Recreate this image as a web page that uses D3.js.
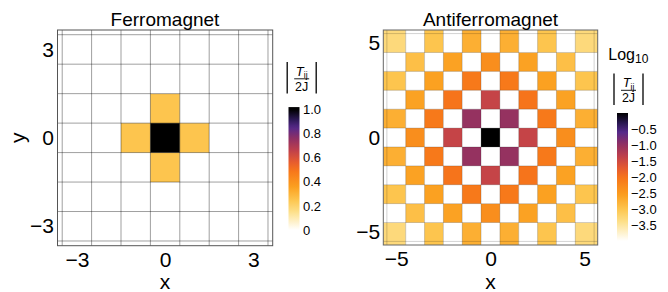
<!DOCTYPE html>
<html>
<head>
<meta charset="utf-8">
<script src="https://cdn.jsdelivr.net/npm/d3@7"></script>
<style>
body { margin: 0; background: #fff; }
svg { font-family: 'Liberation Sans', Arial, sans-serif; }
</style>
</head>
<body>
<div id="chart"></div>
<script>
// Ferromagnet: |T_ij / 2J|, linear
var fm_cells        =   [ -3, -2, -1, 0, 1, 2, 3 ];
var fm_ticks        =   [ -3, 0, 3 ];
var fm_offsets      =   [ [ 0, 0 ], [ 1, 0 ], [ -1, 0 ], [ 0, 1 ], [ 0, -1 ] ];
var fm_values       =   [ 1.0, 0.25, 0.25, 0.25, 0.25 ];
var fm_bar_ticks    =   [ 0, 0.2, 0.4, 0.6, 0.8, 1.0 ];

// Antiferromagnet: Log10 |T_ij / 2J|, one value per (|x|, |y|) pair, only x+y even
var afm_cells       =   [ -5, -4, -3, -2, -1, 0, 1, 2, 3, 4, 5 ];
var afm_ticks       =   [ -5, 0, 5 ];
var afm_offsets     =   [ [0,0], [1,1], [2,0], [2,2], [3,1], [4,0], [3,3], [4,2], [5,1], [4,4], [5,3], [5,5] ];
var afm_log         =   [ 0, -1.02, -1.42, -2.02, -2.08, -2.35, -2.58, -2.6, -2.75, -2.93, -3.0, -3.3 ];
var afm_bar_ticks   =   [ -3.5, -3.0, -2.5, -2.0, -1.5, -1.0, -0.5 ];

var chart_width     =   668;
var chart_height    =   292;

var svg             =   d3.select( '#chart' )
    .append( 'svg' )
    .attr( 'width', chart_width )
    .attr( 'height', chart_height );

// Colour map: white -> yellow -> orange -> red -> purple -> black
var sunset          =   d3.scaleLinear()
    .domain([ 0, 0.15, 0.25, 0.36, 0.49, 0.57, 0.66, 0.76, 0.85, 0.92, 1 ])
    .range([ '#ffffff', '#fde08a', '#fdc54e', '#fb9f1f', '#f7761a', '#e55a30',
             '#bf404b', '#8e2f64', '#55298a', '#2a1852', '#000000' ])
    .clamp( true );

function cellFill( t ) {
    return t === null ? '#ffffff' : sunset( t );
}

function styleAxis( g, size ) {
    g.select( '.domain' ).remove();
    g.selectAll( 'text' )
        .attr( 'font-size', size )
        .attr( 'fill', '#000' )
        .style( 'font-family', "'Liberation Sans', Arial, sans-serif" );
}

// ---------------- Ferromagnet ----------------
var fm_x            =   d3.scaleLinear().domain([ -3.66, 3.66 ]).range([ 57.5, 272.7 ]);
var fm_y            =   d3.scaleLinear().domain([ -3.66, 3.66 ]).range([ 245.7, 30 ]);

var fm_data         =   [];
fm_cells.forEach(function( cy ) {
    fm_cells.forEach(function( cx ) {
        var t = null;
        fm_offsets.forEach(function( o, i ) {
            if ( o[0] === cx && o[1] === cy ) t = fm_values[i];
        });
        fm_data.push({ x: cx, y: cy, t: t });
    });
});

var fm              =   svg.append( 'g' );

fm.selectAll( 'rect.cell' )
    .data( fm_data )
    .enter()
    .append( 'rect' )
    .attr( 'class', 'cell' )
    .attr( 'x', function( d ) { return fm_x( d.x - 0.5 ); })
    .attr( 'y', function( d ) { return fm_y( d.y + 0.5 ); })
    .attr( 'width', function( d ) { return fm_x( d.x + 0.5 ) - fm_x( d.x - 0.5 ); })
    .attr( 'height', function( d ) { return fm_y( d.y - 0.5 ) - fm_y( d.y + 0.5 ); })
    .attr( 'fill', function( d ) { return cellFill( d.t ); });

// Mesh
var fm_mesh         =   d3.range( -3.5, 3.6, 1 );
fm.selectAll( 'line.vmesh' )
    .data( fm_mesh )
    .enter()
    .append( 'line' )
    .attr( 'x1', function( d ) { return fm_x( d ); })
    .attr( 'x2', function( d ) { return fm_x( d ); })
    .attr( 'y1', fm_y( 3.66 ) )
    .attr( 'y2', fm_y( -3.66 ) )
    .attr( 'stroke', 'rgba(0,0,0,0.42)' )
    .attr( 'stroke-width', 0.9 );
fm.selectAll( 'line.hmesh' )
    .data( fm_mesh )
    .enter()
    .append( 'line' )
    .attr( 'y1', function( d ) { return fm_y( d ); })
    .attr( 'y2', function( d ) { return fm_y( d ); })
    .attr( 'x1', fm_x( -3.66 ) )
    .attr( 'x2', fm_x( 3.66 ) )
    .attr( 'stroke', 'rgba(0,0,0,0.42)' )
    .attr( 'stroke-width', 0.9 );

fm.append( 'rect' )
    .attr( 'x', 57.5 ).attr( 'y', 30 )
    .attr( 'width', 272.7 - 57.5 ).attr( 'height', 245.7 - 30 )
    .attr( 'fill', 'none' )
    .attr( 'stroke', '#555' )
    .attr( 'stroke-width', 1 );

// Axes
fm.append( 'g' )
    .attr( 'transform', 'translate(0,245.7)' )
    .call( d3.axisBottom( fm_x ).tickValues( fm_ticks ).tickSize( 0 ).tickPadding( 6.5 ).tickFormat( d3.format( 'd' ) ) )
    .call( styleAxis, 21 );
fm.append( 'g' )
    .attr( 'transform', 'translate(57.5,0)' )
    .call( d3.axisLeft( fm_y ).tickValues( fm_ticks ).tickSize( 0 ).tickPadding( 3.5 ).tickFormat( d3.format( 'd' ) ) )
    .call( styleAxis, 21 );

fm.append( 'text' )
    .attr( 'x', 165 ).attr( 'y', 26 )
    .attr( 'text-anchor', 'middle' )
    .attr( 'font-size', 19 )
    .text( 'Ferromagnet' );
fm.append( 'text' )
    .attr( 'x', 165 ).attr( 'y', 289 )
    .attr( 'text-anchor', 'middle' )
    .attr( 'font-size', 21 )
    .text( 'x' );
fm.append( 'text' )
    .attr( 'transform', 'translate(24.5,137.8) rotate(-90)' )
    .attr( 'text-anchor', 'middle' )
    .attr( 'font-size', 21 )
    .text( 'y' );

// ---------------- Antiferromagnet ----------------
var afm_x           =   d3.scaleLinear().domain([ -5.69, 5.69 ]).range([ 383.3, 597.7 ]);
var afm_y           =   d3.scaleLinear().domain([ -5.69, 5.69 ]).range([ 245, 30 ]);

var afm_data        =   [];
afm_cells.forEach(function( cy ) {
    afm_cells.forEach(function( cx ) {
        var t = null;
        if ( Math.abs( cx + cy ) % 2 === 0 ) {
            var a = Math.max( Math.abs( cx ), Math.abs( cy ) );
            var b = Math.min( Math.abs( cx ), Math.abs( cy ) );
            afm_offsets.forEach(function( o, i ) {
                if ( o[0] === a && o[1] === b ) t = ( afm_log[i] + 4 ) / 4;
            });
        }
        afm_data.push({ x: cx, y: cy, t: t });
    });
});

// edge cells stretch out to the frame
function afmLo( v ) { return v === afm_cells[0] ? -5.69 : v - 0.5; }
function afmHi( v ) { return v === afm_cells[afm_cells.length - 1] ? 5.69 : v + 0.5; }

var afm             =   svg.append( 'g' );

afm.selectAll( 'rect.cell' )
    .data( afm_data )
    .enter()
    .append( 'rect' )
    .attr( 'class', 'cell' )
    .attr( 'x', function( d ) { return afm_x( afmLo( d.x ) ); })
    .attr( 'y', function( d ) { return afm_y( afmHi( d.y ) ); })
    .attr( 'width', function( d ) { return afm_x( afmHi( d.x ) ) - afm_x( afmLo( d.x ) ); })
    .attr( 'height', function( d ) { return afm_y( afmLo( d.y ) ) - afm_y( afmHi( d.y ) ); })
    .attr( 'fill', function( d ) { return cellFill( d.t ); });

var afm_mesh        =   d3.range( -5.5, 5.6, 1 );
afm.selectAll( 'line.vmesh' )
    .data( afm_mesh )
    .enter()
    .append( 'line' )
    .attr( 'x1', function( d ) { return afm_x( d ); })
    .attr( 'x2', function( d ) { return afm_x( d ); })
    .attr( 'y1', afm_y( 5.69 ) )
    .attr( 'y2', afm_y( -5.69 ) )
    .attr( 'stroke', 'rgba(0,0,0,0.2)' )
    .attr( 'stroke-width', 0.9 );
afm.selectAll( 'line.hmesh' )
    .data( afm_mesh )
    .enter()
    .append( 'line' )
    .attr( 'y1', function( d ) { return afm_y( d ); })
    .attr( 'y2', function( d ) { return afm_y( d ); })
    .attr( 'x1', afm_x( -5.69 ) )
    .attr( 'x2', afm_x( 5.69 ) )
    .attr( 'stroke', 'rgba(0,0,0,0.2)' )
    .attr( 'stroke-width', 0.9 );

afm.append( 'rect' )
    .attr( 'x', 383.3 ).attr( 'y', 30 )
    .attr( 'width', 597.7 - 383.3 ).attr( 'height', 245 - 30 )
    .attr( 'fill', 'none' )
    .attr( 'stroke', '#666' )
    .attr( 'stroke-width', 1 );

afm.append( 'g' )
    .attr( 'transform', 'translate(0,245)' )
    .call( d3.axisBottom( afm_x ).tickValues( afm_ticks ).tickSize( 0 ).tickPadding( 6.5 ).tickFormat( d3.format( 'd' ) ) )
    .call( styleAxis, 21 );
afm.append( 'g' )
    .attr( 'transform', 'translate(383.3,0)' )
    .call( d3.axisLeft( afm_y ).tickValues( afm_ticks ).tickSize( 0 ).tickPadding( 3 ).tickFormat( d3.format( 'd' ) ) )
    .call( styleAxis, 21 );

afm.append( 'text' )
    .attr( 'x', 490.5 ).attr( 'y', 26 )
    .attr( 'text-anchor', 'middle' )
    .attr( 'font-size', 19 )
    .text( 'Antiferromagnet' );
afm.append( 'text' )
    .attr( 'x', 490.5 ).attr( 'y', 289 )
    .attr( 'text-anchor', 'middle' )
    .attr( 'font-size', 21 )
    .text( 'x' );

// ---------------- Colour bars ----------------
var defs            =   svg.append( 'defs' );

function addGradient( id, n, toT ) {
    var grad = defs.append( 'linearGradient' )
        .attr( 'id', id )
        .attr( 'x1', 0 ).attr( 'y1', 1 )
        .attr( 'x2', 0 ).attr( 'y2', 0 );
    d3.range( 0, n + 1 ).forEach(function( i ) {
        grad.append( 'stop' )
            .attr( 'offset', i / n )
            .attr( 'stop-color', sunset( toT( i / n ) ) );
    });
}

// fraction |T_ij / 2J|
function fracLabel( g, cx, top ) {
    g.append( 'line' ).attr( 'x1', cx - 14.5 ).attr( 'x2', cx - 14.5 )
        .attr( 'y1', top ).attr( 'y2', top + 31.5 )
        .attr( 'stroke', '#000' ).attr( 'stroke-width', 1.3 );
    g.append( 'line' ).attr( 'x1', cx + 14.5 ).attr( 'x2', cx + 14.5 )
        .attr( 'y1', top ).attr( 'y2', top + 31.5 )
        .attr( 'stroke', '#000' ).attr( 'stroke-width', 1.3 );
    var num = g.append( 'text' )
        .attr( 'x', cx ).attr( 'y', top + 13.5 )
        .attr( 'text-anchor', 'middle' )
        .attr( 'font-size', 13 );
    num.append( 'tspan' ).attr( 'font-style', 'italic' ).text( 'T' );
    num.append( 'tspan' ).attr( 'font-size', 8.5 ).attr( 'dy', 2.5 ).text( 'ij' );
    g.append( 'line' ).attr( 'x1', cx - 7.5 ).attr( 'x2', cx + 7.5 )
        .attr( 'y1', top + 16.8 ).attr( 'y2', top + 16.8 )
        .attr( 'stroke', '#000' ).attr( 'stroke-width', 0.9 );
    g.append( 'text' )
        .attr( 'x', cx ).attr( 'y', top + 28.5 )
        .attr( 'text-anchor', 'middle' )
        .attr( 'font-size', 12.5 )
        .text( '2J' );
}

// left bar
var fm_bar          =   d3.scaleLinear().domain([ 0, 1 ]).range([ 230, 109.5 ]);
addGradient( 'fm-grad', 40, function( f ) { return f * 1.02; } );
svg.append( 'rect' )
    .attr( 'x', 288.5 ).attr( 'y', fm_bar( 1.02 ) )
    .attr( 'width', 11 ).attr( 'height', fm_bar( 0 ) - fm_bar( 1.02 ) )
    .attr( 'fill', 'url(#fm-grad)' );
svg.append( 'g' )
    .attr( 'transform', 'translate(299.5,0)' )
    .call( d3.axisRight( fm_bar ).tickValues( fm_bar_ticks ).tickSize( 0 ).tickPadding( 3.5 )
        .tickFormat(function( d ) { return d === 0 ? '0' : d3.format( '.1f' )( d ); }) )
    .call( styleAxis, 13 );
fracLabel( svg.append( 'g' ), 301.7, 62 );

// right bar
var afm_bar         =   d3.scaleLinear().domain([ -4, 0 ]).range([ 241, 113 ]);
addGradient( 'afm-grad', 40, function( f ) { return f; } );
svg.append( 'rect' )
    .attr( 'x', 617 ).attr( 'y', afm_bar( 0 ) )
    .attr( 'width', 11 ).attr( 'height', afm_bar( -4 ) - afm_bar( 0 ) )
    .attr( 'fill', 'url(#afm-grad)' );
svg.append( 'g' )
    .attr( 'transform', 'translate(628,0)' )
    .call( d3.axisRight( afm_bar ).tickValues( afm_bar_ticks ).tickSize( 0 ).tickPadding( 3 )
        .tickFormat( d3.format( '.1f' ) ) )
    .call( styleAxis, 13 );

var log_title       =   svg.append( 'text' )
    .attr( 'x', 608.3 ).attr( 'y', 60 )
    .attr( 'font-size', 16 );
log_title.append( 'tspan' ).text( 'Log' );
log_title.append( 'tspan' ).attr( 'font-size', 12 ).attr( 'dy', 3 ).text( '10' );
fracLabel( svg.append( 'g' ), 628.5, 73.5 );
</script>
</body>
</html>
